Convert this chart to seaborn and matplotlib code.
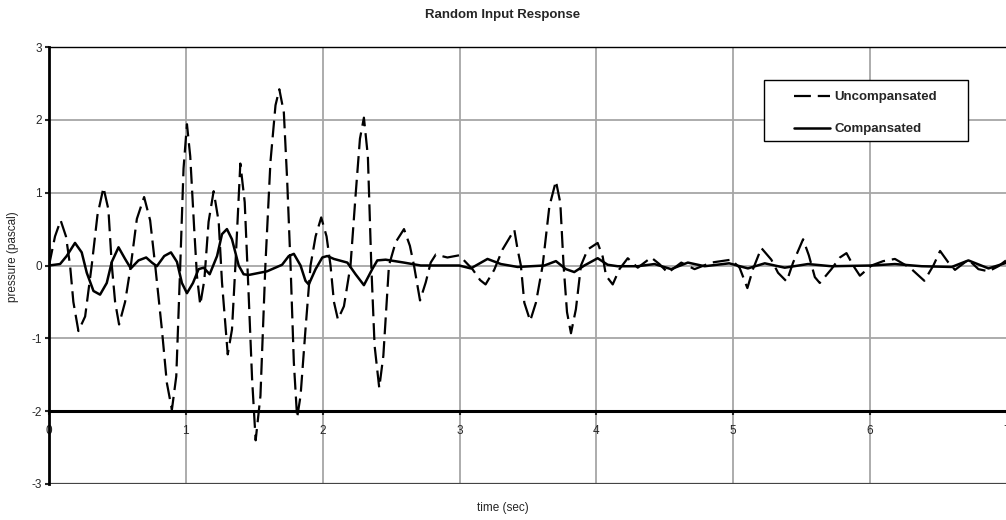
import matplotlib
matplotlib.use("Agg")
import matplotlib.pyplot as plt
from matplotlib.patches import Rectangle
import seaborn as sns

# -------- Data -------- #

unc_t = [0.000, 0.044, 0.085, 0.124, 0.154, 0.178, 0.215, 0.264, 0.312, 0.354,
         0.398, 0.434, 0.459, 0.483, 0.512, 0.556, 0.598, 0.642, 0.695, 0.739,
         0.776, 0.825, 0.861, 0.898, 0.930, 0.959, 0.983, 1.008, 1.032, 1.061,
         1.081, 1.105, 1.135, 1.166, 1.203, 1.240, 1.264, 1.306, 1.337, 1.362,
         1.398, 1.430, 1.459, 1.484, 1.510, 1.545, 1.581, 1.618, 1.655, 1.683,
         1.716, 1.740, 1.765, 1.789, 1.813, 1.838, 1.874, 1.911, 1.948, 1.989,
         2.028, 2.057, 2.082, 2.111, 2.155, 2.203, 2.240, 2.272, 2.301, 2.330,
         2.355, 2.379, 2.413, 2.443, 2.484, 2.533, 2.594, 2.637, 2.667, 2.711,
         2.753, 2.789, 2.826, 2.911, 2.997, 3.094, 3.150, 3.190, 3.253, 3.314,
         3.400, 3.424, 3.448, 3.473, 3.516, 3.558, 3.607, 3.656, 3.704, 3.736,
         3.760, 3.785, 3.814, 3.850, 3.887, 3.936, 4.009, 4.046, 4.070, 4.119,
         4.168, 4.229, 4.302, 4.400, 4.460, 4.522, 4.620, 4.717, 4.839, 4.985,
         5.046, 5.103, 5.144, 5.205, 5.278, 5.327, 5.390, 5.437, 5.510, 5.552,
         5.596, 5.632, 5.717, 5.779, 5.827, 5.876, 5.925, 6.010, 6.095, 6.181,
         6.291, 6.396, 6.462, 6.511, 6.572, 6.620, 6.718, 6.791, 6.865, 6.937,
         7.000]
unc_v = [0.00, 0.40, 0.62, 0.40, 0.00, -0.50, -0.90, -0.70, 0.00, 0.69,
         1.07, 0.77, 0.00, -0.50, -0.81, -0.50, 0.00, 0.64, 0.94, 0.62,
         0.00, -0.88, -1.61, -1.98, -1.52, 0.00, 1.33, 1.94, 1.50, 0.50,
         -0.14, -0.54, -0.20, 0.60, 1.02, 0.60, -0.23, -1.22, -0.88, 0.00,
         1.40, 0.87, -0.41, -1.56, -2.40, -1.79, 0.00, 1.42, 2.20, 2.42,
         2.10, 1.18, 0.00, -1.33, -2.09, -1.79, -0.88, 0.00, 0.40, 0.66,
         0.40, 0.00, -0.50, -0.74, -0.56, 0.00, 0.96, 1.74, 2.03, 1.50,
         0.00, -1.10, -1.68, -1.24, 0.00, 0.32, 0.50, 0.27, 0.00, -0.48,
         -0.23, 0.04, 0.15, 0.11, 0.14, -0.05, -0.20, -0.26, -0.06, 0.22,
         0.49, 0.22, 0.00, -0.51, -0.76, -0.51, 0.00, 0.81, 1.16, 0.86,
         0.00, -0.64, -0.93, -0.60, 0.00, 0.22, 0.31, 0.12, -0.14, -0.26,
         -0.05, 0.10, -0.03, 0.11, 0.02, -0.10, 0.04, -0.05, 0.04, 0.08,
         -0.03, -0.31, -0.05, 0.24, 0.08, -0.10, -0.22, 0.04, 0.36, 0.14,
         -0.16, -0.24, -0.05, 0.11, 0.17, 0.00, -0.14, 0.00, 0.06, 0.09,
         -0.03, -0.21, 0.00, 0.20, 0.04, -0.06, 0.08, -0.05, -0.08, -0.01,
         0.08]

comp_t = [0.000, 0.081, 0.129, 0.190, 0.239, 0.276, 0.325, 0.373, 0.422, 0.459,
          0.508, 0.556, 0.598, 0.654, 0.710, 0.752, 0.788, 0.842, 0.891, 0.935,
          0.971, 1.008, 1.052, 1.093, 1.130, 1.174, 1.228, 1.264, 1.300, 1.337,
          1.386, 1.422, 1.459, 1.593, 1.703, 1.752, 1.789, 1.838, 1.874, 1.898,
          1.948, 1.997, 2.033, 2.082, 2.180, 2.240, 2.301, 2.362, 2.399, 2.460,
          2.594, 2.716, 2.997, 3.082, 3.204, 3.302, 3.424, 3.620, 3.704, 3.777,
          3.838, 3.912, 4.009, 4.082, 4.155, 4.302, 4.424, 4.546, 4.668, 4.791,
          4.970, 5.107, 5.230, 5.376, 5.546, 5.717, 6.010, 6.181, 6.376, 6.596,
          6.718, 6.865, 7.000]
comp_v = [0.00, 0.02, 0.13, 0.31, 0.18, -0.10, -0.35, -0.40, -0.24, 0.05,
          0.25, 0.09, -0.04, 0.07, 0.11, 0.04, -0.01, 0.13, 0.18, 0.05,
          -0.24, -0.38, -0.24, -0.05, -0.03, -0.12, 0.13, 0.43, 0.50, 0.36,
          0.00, -0.12, -0.13, -0.08, 0.01, 0.13, 0.16, 0.00, -0.21, -0.26,
          -0.05, 0.11, 0.13, 0.09, 0.04, -0.12, -0.27, -0.05, 0.07, 0.08,
          0.04, 0.00, 0.00, -0.04, 0.09, 0.02, -0.02, 0.00, 0.06, -0.05,
          -0.09, 0.00, 0.10, 0.01, -0.01, -0.01, 0.02, -0.05, 0.04, -0.01,
          0.03, -0.04, 0.03, -0.03, 0.02, -0.01, 0.00, 0.02, -0.01, -0.02,
          0.07, -0.04, 0.04]

x_ticks = [0, 1, 2, 3, 4, 5, 6, 7]
y_ticks = [-3, -2, -1, 0, 1, 2, 3]

# -------- Plot -------- #

sns.set_style("white")
plt.rcParams["font.family"] = ["Liberation Sans", "DejaVu Sans"]
plt.rcParams["axes.unicode_minus"] = False

W, H = 1006, 520
fig = plt.figure(figsize=(W / 100, H / 100), dpi=100)
ax = fig.add_axes([49 / W, 1 - 484 / H, 958 / W, 437 / H])

sns.lineplot(x=unc_t, y=unc_v, ax=ax, color="black", lw=1.6, sort=False,
             estimator=None, linestyle=(0, (7.6, 3.1)), label="Uncompansated")
sns.lineplot(x=comp_t, y=comp_v, ax=ax, color="black", lw=1.8, sort=False,
             estimator=None, label="Compansated")

ax.set_xlim(0, 7)
ax.set_ylim(-3, 3)
ax.set_xticks(x_ticks)
ax.set_yticks(y_ticks)
ax.grid(True, color="#a6a6a6", lw=1.3)
ax.set_axisbelow(True)

# x axis crosses at -2, like the spreadsheet original
ax.spines["bottom"].set_position(("data", -2))
ax.spines["bottom"].set_linewidth(2.2)
ax.spines["left"].set_linewidth(2.0)
ax.spines["top"].set_linewidth(1.0)
ax.spines["right"].set_visible(False)
for s in ["bottom", "left", "top"]:
    ax.spines[s].set_color("black")
ax.axhline(-3, color="#444444", lw=1.6, zorder=1)

ax.tick_params(axis="x", direction="out", length=3, width=1.5, pad=7, labelsize=8.5)
ax.tick_params(axis="y", direction="out", length=3, width=1.5, pad=2, labelsize=8.5)
ax.tick_params(left=True, bottom=True)

fig.text(0.5, 1 - 15 / H, "Random Input Response", ha="center", va="center",
         fontsize=9.5, fontweight="bold")
fig.text(0.5, 1 - 508 / H, "time (sec)", ha="center", va="center", fontsize=8.5)
fig.text(13 / W, 1 - 257 / H, "pressure (pascal)", ha="center", va="center",
         rotation=90, fontsize=8.5)
ax.set_xlabel("")
ax.set_ylabel("")

# legend frame drawn separately so the inner padding can be wider than tall
ax.add_patch(Rectangle((0.7465, 0.785), 0.2130, 0.1395, transform=ax.transAxes,
                       facecolor="white", edgecolor="black", lw=1.0, zorder=4))
leg = ax.legend(loc="upper left", bbox_to_anchor=(0.7775, 0.899), frameon=False,
                handlelength=2.75, handletextpad=0.3, borderpad=0, borderaxespad=0,
                labelspacing=1.48, prop={"weight": "bold", "size": 9.5})
leg.set_zorder(5)

plt.savefig("out.png", dpi=100)
plt.close()
